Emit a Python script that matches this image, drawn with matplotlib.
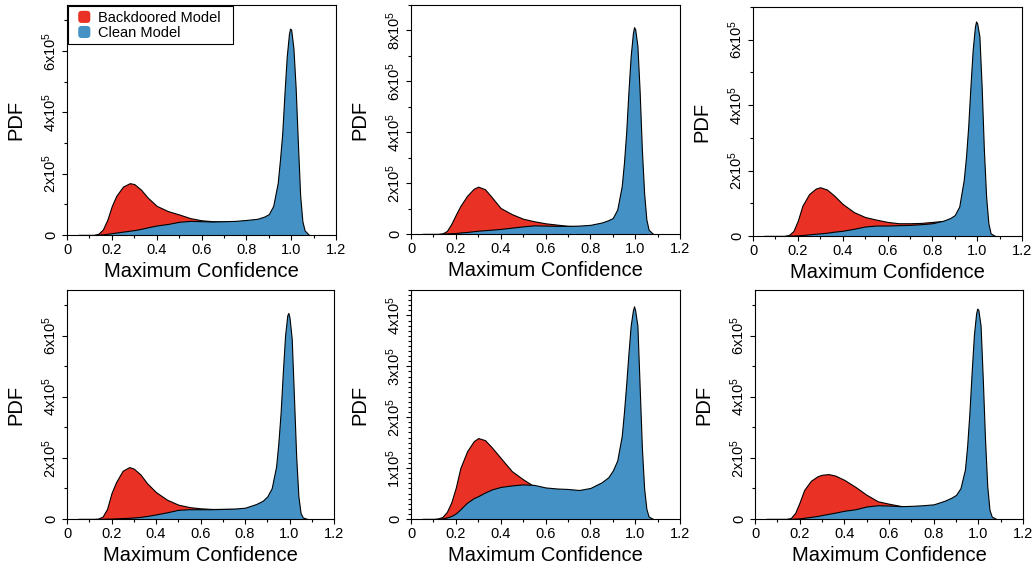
#!/usr/bin/env python3
# -*- coding: utf-8 -*-
"""
Maximum confidence PDF: backdoored vs clean model (6 panels)
"""

import matplotlib
matplotlib.use("Agg")
import matplotlib.pyplot as plt
from matplotlib.ticker import MultipleLocator, FuncFormatter
from matplotlib.patches import Patch, FancyBboxPatch, Rectangle
from matplotlib.legend_handler import HandlerPatch

plt.rcParams['font.family'] = ['Liberation Sans', 'DejaVu Sans']
plt.rcParams['mathtext.default'] = 'regular'

RED = '#E93125'
BLUE = '#4492C5'

# shared x grid (maximum confidence)
X = [0.05, 0.10, 0.12, 0.14, 0.16, 0.18, 0.20, 0.22, 0.25, 0.28, 0.30, 0.33, 0.36,
     0.40, 0.45, 0.50, 0.55, 0.60, 0.65, 0.70, 0.75, 0.80, 0.85, 0.88, 0.90, 0.92,
     0.94, 0.95, 0.96, 0.97, 0.98, 0.99, 0.995, 1.00, 1.01, 1.02, 1.03, 1.04, 1.05,
     1.06, 1.08]

# PDF values, in units of 1e5
red_1 = [0, 0, 0, 0.04, 0.18, 0.5, 0.95, 1.28, 1.58, 1.69, 1.66, 1.48, 1.22,
         0.95, 0.78, 0.67, 0.55, 0.48, 0.45, 0.44, 0.44, 0.40, 0.30, 0.25, 0.20, 0.17,
         0.15, 0.14, 0.13, 0.12, 0.11, 0.10, 0.10, 0.10, 0.09, 0.07, 0.05, 0.03, 0.01,
         0, 0]
blue_1 = [0, 0, 0, 0.01, 0.02, 0.04, 0.06, 0.08, 0.11, 0.14, 0.16, 0.20, 0.25,
          0.31, 0.36, 0.43, 0.46, 0.45, 0.44, 0.45, 0.46, 0.49, 0.53, 0.60, 0.68, 0.95,
          1.7, 2.45, 3.3, 4.6, 5.8, 6.55, 6.73, 6.7, 6.1, 4.8, 3.0, 1.3, 0.45,
          0.15, 0]

red_2 = [0, 0, 0, 0.02, 0.12, 0.40, 0.76, 1.10, 1.50, 1.78, 1.86, 1.76, 1.45,
         1.02, 0.78, 0.60, 0.50, 0.42, 0.37, 0.32, 0.29, 0.26, 0.20, 0.17, 0.15, 0.13,
         0.12, 0.11, 0.10, 0.10, 0.09, 0.08, 0.08, 0.08, 0.07, 0.06, 0.04, 0.03, 0.01,
         0, 0]
blue_2 = [0, 0, 0, 0.01, 0.02, 0.03, 0.04, 0.06, 0.08, 0.11, 0.13, 0.15, 0.17,
          0.20, 0.25, 0.30, 0.34, 0.33, 0.32, 0.32, 0.33, 0.36, 0.45, 0.54, 0.63, 0.96,
          1.88, 2.8, 4.0, 5.6, 7.0, 7.9, 8.13, 8.05, 7.4, 5.6, 3.3, 1.6, 0.57,
          0.17, 0]

red_3 = [0, 0, 0, 0, 0.03, 0.15, 0.47, 0.92, 1.28, 1.45, 1.49, 1.42, 1.25,
         0.98, 0.73, 0.58, 0.50, 0.43, 0.39, 0.39, 0.40, 0.43, 0.46, 0.40, 0.35, 0.30,
         0.25, 0.22, 0.20, 0.18, 0.16, 0.14, 0.13, 0.12, 0.10, 0.08, 0.05, 0.03, 0.01,
         0, 0]
blue_3 = [0, 0, 0, 0, 0.01, 0.01, 0.02, 0.03, 0.05, 0.07, 0.08, 0.10, 0.13,
          0.16, 0.22, 0.29, 0.32, 0.32, 0.33, 0.34, 0.36, 0.39, 0.47, 0.55, 0.64, 0.90,
          1.71, 2.4, 3.35, 4.57, 5.69, 6.4, 6.56, 6.5, 6.1, 4.57, 2.63, 1.2, 0.39,
          0.08, 0]

red_4 = [0, 0, 0, 0.01, 0.08, 0.33, 0.85, 1.20, 1.58, 1.70, 1.65, 1.46, 1.17,
         0.88, 0.63, 0.47, 0.39, 0.35, 0.33, 0.33, 0.33, 0.29, 0.24, 0.21, 0.19, 0.17,
         0.15, 0.14, 0.13, 0.12, 0.11, 0.10, 0.10, 0.09, 0.08, 0.06, 0.04, 0.02, 0.01,
         0, 0]
blue_4 = [0, 0, 0, 0, 0, 0.01, 0.01, 0.02, 0.03, 0.04, 0.05, 0.07, 0.10,
          0.15, 0.22, 0.30, 0.32, 0.32, 0.32, 0.33, 0.34, 0.37, 0.49, 0.60, 0.74, 1.01,
          1.73, 2.5, 3.48, 4.8, 6.0, 6.67, 6.75, 6.6, 5.9, 4.0, 2.05, 0.74, 0.19,
          0.05, 0]

red_5 = [0, 0, 0.01, 0.04, 0.14, 0.33, 0.62, 1.00, 1.33, 1.53, 1.59, 1.55, 1.41,
         1.20, 0.94, 0.78, 0.64, 0.56, 0.50, 0.47, 0.44, 0.40, 0.35, 0.30, 0.28, 0.25,
         0.22, 0.20, 0.18, 0.16, 0.14, 0.12, 0.12, 0.11, 0.10, 0.08, 0.05, 0.02, 0.01,
         0, 0]
blue_5 = [0, 0, 0, 0.01, 0.03, 0.06, 0.11, 0.19, 0.32, 0.41, 0.45, 0.52, 0.58,
          0.63, 0.66, 0.68, 0.67, 0.62, 0.60, 0.59, 0.57, 0.61, 0.72, 0.82, 0.95, 1.15,
          1.63, 2.1, 2.65, 3.25, 3.8, 4.1, 4.18, 4.1, 3.8, 2.6, 1.4, 0.6, 0.2,
          0.05, 0]

red_6 = [0, 0, 0, 0, 0.03, 0.20, 0.55, 0.95, 1.25, 1.40, 1.45, 1.47, 1.42,
         1.28, 1.05, 0.79, 0.58, 0.50, 0.43, 0.40, 0.37, 0.33, 0.28, 0.24, 0.21, 0.18,
         0.16, 0.15, 0.14, 0.13, 0.12, 0.11, 0.11, 0.10, 0.09, 0.07, 0.05, 0.03, 0.01,
         0, 0]
blue_6 = [0, 0, 0, 0, 0, 0.01, 0.02, 0.04, 0.07, 0.10, 0.13, 0.17, 0.21,
          0.27, 0.32, 0.41, 0.45, 0.44, 0.42, 0.43, 0.45, 0.48, 0.60, 0.70, 0.79, 1.01,
          1.62, 2.4, 3.48, 4.8, 6.01, 6.73, 6.89, 6.85, 6.34, 4.58, 2.6, 1.07, 0.3,
          0.08, 0]

# per panel: (backdoored, clean, y max [1e5], major step, minor step)
PANELS = [
    (red_1, blue_1, 7.5, 2, 1),
    (red_2, blue_2, 9.0, 2, 1),
    (red_3, blue_3, 7.0, 2, 1),
    (red_4, blue_4, 7.5, 2, 1),
    (red_5, blue_5, 4.5, 1, 0.1),
    (red_6, blue_6, 7.5, 2, 1),
]

# axes boxes in pixels: left, top, right, bottom
BOXES = [
    (67, 5, 336, 235),
    (411, 5, 680, 234),
    (753, 7, 1022, 236),
    (67, 290, 334, 519),
    (411, 290, 680, 519),
    (755, 290, 1023, 519),
]

W, H = 1033, 565


def y_fmt(v, pos):
    n = int(round(v / 1e5))
    if n == 0:
        return '0'
    return f'{n}x10$^{{5}}$'


def x_fmt(v, pos):
    if abs(v) < 1e-9:
        return '0'
    return f'{v:.1f}'


def rounded_patch(legend, orig_handle, xdescent, ydescent, width, height, fontsize):
    # square swatch at the right end of the handle box, rounded corners
    side = height
    return FancyBboxPatch((-xdescent + width - side, -ydescent), side, side,
                          boxstyle='round,pad=0,rounding_size=2.5')


def draw_panel(ax, red, blue, ymax, major, minor):
    red_v = [v * 1e5 for v in red]
    blue_v = [v * 1e5 for v in blue]
    ax.fill_between(X, 0, red_v, facecolor=RED, edgecolor='black', linewidth=0.8, zorder=2)
    ax.fill_between(X, 0, blue_v, facecolor=BLUE, edgecolor='black', linewidth=0.8, zorder=3)

    ax.set_xlim(0, 1.2)
    ax.set_ylim(0, ymax * 1e5)
    ax.xaxis.set_major_locator(MultipleLocator(0.2))
    ax.xaxis.set_minor_locator(MultipleLocator(0.1))
    ax.xaxis.set_major_formatter(FuncFormatter(x_fmt))
    ax.yaxis.set_major_locator(MultipleLocator(major * 1e5))
    ax.yaxis.set_minor_locator(MultipleLocator(minor * 1e5))
    ax.yaxis.set_major_formatter(FuncFormatter(y_fmt))

    ax.tick_params(which='both', direction='out', width=0.8, colors='black')
    ax.tick_params(which='major', length=3.5)
    ax.tick_params(which='minor', length=2)
    ax.tick_params(axis='x', labelsize=10.5, pad=2)
    ax.tick_params(axis='y', labelsize=10.5, pad=2.5, labelrotation=90)
    for lab in ax.get_yticklabels():
        lab.set_va('center')

    for sp in ax.spines.values():
        sp.set_linewidth(0.8)
        sp.set_color('black')

    ax.set_xlabel('Maximum Confidence', fontsize=14.5)
    ax.set_ylabel('PDF', fontsize=14.5)
    ax.xaxis.set_label_coords(0.5, -0.118)
    ax.yaxis.set_label_coords(-0.155, 0.5)


def main():
    fig = plt.figure(figsize=(W / 100, H / 100), dpi=100)

    axes = []
    for (l, t, r, b), (red, blue, ymax, major, minor) in zip(BOXES, PANELS):
        ax = fig.add_axes([l / W, 1 - b / H, (r - l) / W, (b - t) / H])
        draw_panel(ax, red, blue, ymax, major, minor)
        axes.append(ax)

    # legend only in the first panel
    handles = [Patch(facecolor=RED, edgecolor='none', label='Backdoored Model'),
               Patch(facecolor=BLUE, edgecolor='none', label='Clean Model')]
    leg = axes[0].legend(handles=handles, loc='upper left', fontsize=10.5,
                         frameon=False, borderaxespad=0.1,
                         handlelength=1.2, handleheight=0.9, handletextpad=0.55,
                         labelspacing=0.07, borderpad=0.3,
                         handler_map={Patch: HandlerPatch(patch_func=rounded_patch)})
    leg.set_zorder(5)

    # frame drawn by hand so that the right margin can be wider than the top one
    fig.canvas.draw()
    bb = leg.get_window_extent().transformed(fig.transFigure.inverted())
    extra = 8 / W
    frame = Rectangle((bb.x0, bb.y0), bb.width + extra, bb.height,
                      transform=fig.transFigure, facecolor='white',
                      edgecolor='black', linewidth=0.8, zorder=4)
    fig.add_artist(frame)
    fig.add_artist(leg)
    leg.set_zorder(6)

    fig.savefig('out.png', dpi=100)
    plt.close(fig)


if __name__ == '__main__':
    main()
